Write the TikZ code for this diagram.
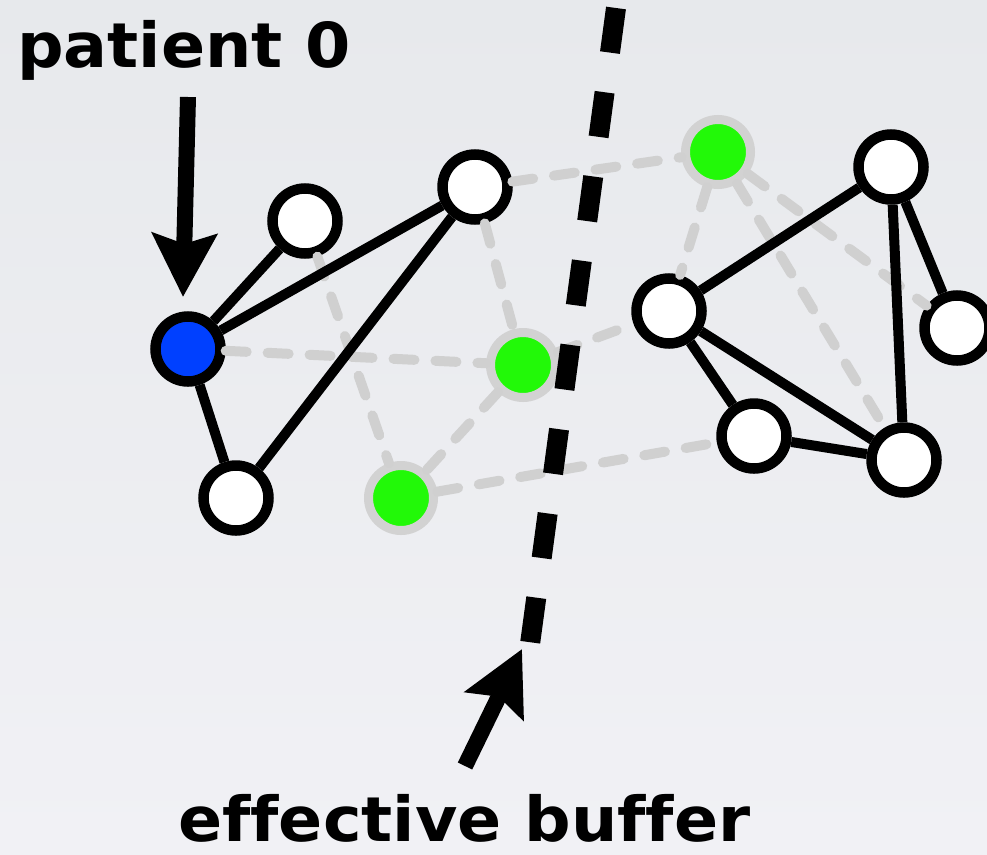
\documentclass[tikz,border=0pt]{standalone}
\usepackage{fontspec}
\setmainfont[Ligatures=NoCommon]{DejaVu Sans}
\usetikzlibrary{arrows.meta}

\definecolor{bgtop}{HTML}{E7E9EC}
\definecolor{bgbottom}{HTML}{F1F1F5}
\definecolor{seedblue}{HTML}{0040FF}
\definecolor{vgreen}{HTML}{22F908}
\definecolor{ringgray}{HTML}{D2D2D2}
\definecolor{dashgray}{HTML}{D0D0D0}

\newcommand{\widetext}[1]{\scalebox{1.05}[1]{#1}}

\begin{document}
\begin{tikzpicture}[x=1pt,y=-1pt,
  person/.style={circle,draw=black,line width=10.5pt,fill=white,minimum size=65pt,inner sep=0pt},
  seed/.style={person,fill=seedblue},
  immune/.style={circle,draw=ringgray,line width=9pt,fill=vgreen,minimum size=65pt,inner sep=0pt},
  tie/.style={line width=10pt,draw=black},
  weak/.style={line width=10pt,draw=dashgray,line cap=round,dash pattern=on 21pt off 21pt},
  pointer/.style={line width=16pt,draw=black,-{Stealth[length=63pt,width=64pt,inset=10pt]}},
  buffer/.style={line width=20pt,draw=black,dash pattern=on 45pt off 40pt},
  headline/.style={font=\bfseries\fontsize{62}{64}\selectfont,anchor=base west,inner sep=0pt}
]
  % canvas
  \useasboundingbox (0,0) rectangle (987,854);
  \clip (0,0) rectangle (987,854);
  \shade[top color=bgtop,bottom color=bgbottom] (0,0) rectangle (987,854);

  % left cluster
  \node[seed]   (p0) at (188,349) {};
  \node[person] (a)  at (305,221) {};
  \node[person] (b)  at (475,187) {};
  \node[person] (c)  at (236,498) {};

  % vaccinated nodes
  \node[immune] (g1) at (523,365) {};
  \node[immune] (g2) at (401,498) {};
  \node[immune] (g3) at (718,152) {};

  % right cluster
  \node[person] (r1) at (669,311) {};
  \node[person] (r2) at (891,167) {};
  \node[person] (r3) at (957,328) {};
  \node[person] (r4) at (754,436) {};
  \node[person] (r5) at (904,460) {};

  % links through vaccinated nodes
  \draw[weak] (p0) -- (g1);
  \draw[weak] (a)  -- (g2);
  \draw[weak] (b)  -- (g1);
  \draw[weak] (g1) -- (g2);
  \draw[weak] (g2) -- (r4);
  \draw[weak] (b)  -- (g3);
  \draw[weak] (g1) -- (r1);
  \draw[weak] (g3) -- (r1);
  \draw[weak] (g3) -- (r5);
  \draw[weak] (g3) -- (r3);

  % active links
  \draw[tie] (p0) -- (a);
  \draw[tie] (p0) -- (b);
  \draw[tie] (p0) -- (c);
  \draw[tie] (b)  -- (c);
  \draw[tie] (r1) -- (r2);
  \draw[tie] (r1) -- (r4);
  \draw[tie] (r1) -- (r5);
  \draw[tie] (r4) -- (r5);
  \draw[tie] (r2) -- (r5);
  \draw[tie] (r2) -- (r3);

  % buffer line
  \coordinate (buftop) at (616,8);
  \coordinate (bufbot) at (530,644);
  \draw[buffer] (buftop) -- (bufbot);

  % labels and pointers
  \node[headline] (lblp0) at (17,67) {\widetext{patient 0}};
  \node[headline] (lblbuf) at (178,841) {\widetext{effective buffer}};
  \coordinate (p0tail) at (188,97);
  \coordinate (p0tip) at (183,297);
  \draw[pointer] (p0tail) -- (p0tip);
  \coordinate (buftail) at (465,766);
  \coordinate (buftip) at (522,649);
  \draw[pointer] (buftail) -- (buftip);
\end{tikzpicture}
\end{document}
